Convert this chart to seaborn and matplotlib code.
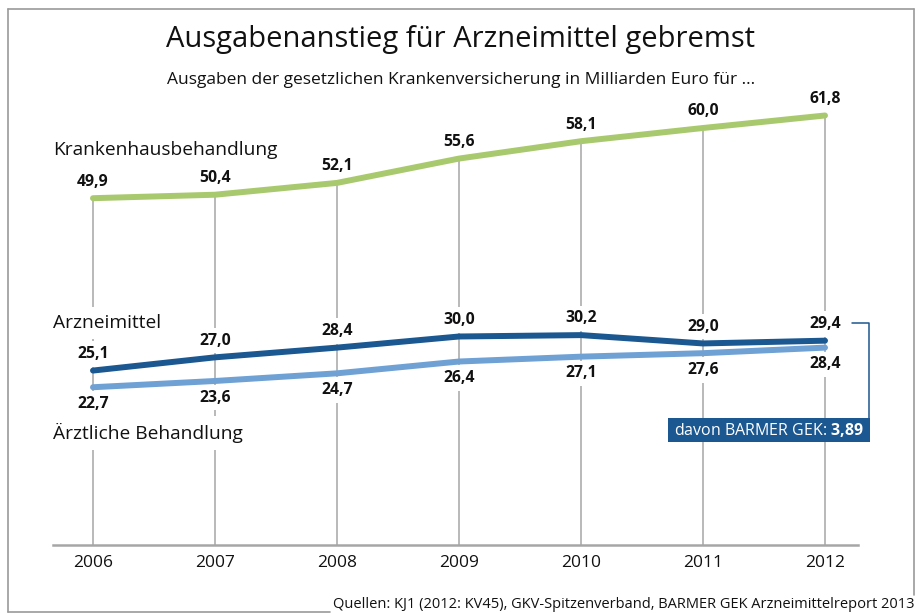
import matplotlib
matplotlib.use("Agg")
import numpy as np
import pandas as pd
import matplotlib.pyplot as plt
from matplotlib.lines import Line2D
from matplotlib.patches import Rectangle
import seaborn as sns

# Daten
jahre = [2006, 2007, 2008, 2009, 2010, 2011, 2012]
krankenhaus = [49.9, 50.4, 52.1, 55.6, 58.1, 60.0, 61.8]
arzneimittel = [25.1, 27.0, 28.4, 30.0, 30.2, 29.0, 29.4]
aerztlich = [22.7, 23.6, 24.7, 26.4, 27.1, 27.6, 28.4]
barmer_anteil = 3.89

serien = ["Krankenhausbehandlung", "Arzneimittel", "Ärztliche Behandlung"]
werte = [krankenhaus, arzneimittel, aerztlich]
farben = {"Krankenhausbehandlung": "#a9c96e",
          "Arzneimittel": "#1b5790",
          "Ärztliche Behandlung": "#6fa1d5"}

df = pd.DataFrame({
    "Jahr": jahre * 3,
    "Wert": krankenhaus + arzneimittel + aerztlich,
    "Serie": [s for s in serien for _ in jahre],
})

sns.set_style("white")
plt.rcParams["font.family"] = ["Open Sans", "DejaVu Sans"]
plt.rcParams["mathtext.fontset"] = "custom"
plt.rcParams["mathtext.rm"] = "Open Sans"
plt.rcParams["mathtext.bf"] = "Open Sans:bold"

W, H = 920, 614
def fx(px):
    return px / W
def fy(py):
    return 1 - py / H

fig = plt.figure(figsize=(9.2, 6.14), dpi=100)
ax = fig.add_axes([fx(53), fy(545), fx(858) - fx(53), (545 - 100) / H])

grau = "#a6a6a6"
# senkrechte Hilfslinien bis zur obersten Linie
ax.vlines(jahre, 0, krankenhaus, color=grau, lw=1.1, zorder=1)

for s in serien:
    sns.lineplot(data=df[df["Serie"] == s], x="Jahr", y="Wert", color=farben[s],
                 linewidth=4.3, solid_capstyle="round", ax=ax, zorder=3)

ax.set_xlim(2006 - 40 / 122, 2012 + 33 / 122)
ax.set_ylim(0, 445 / 6.95)

weiss = dict(facecolor="white", edgecolor="none", boxstyle="square,pad=0.3")

# Wertbeschriftungen
for s, vals in zip(serien, werte):
    off = -12 if s == "Ärztliche Behandlung" else 12
    for j, v in zip(jahre, vals):
        ax.annotate(f"{v:.1f}".replace(".", ","), (j, v), xytext=(0, off),
                    textcoords="offset points", ha="center", va="center",
                    fontsize=11.3, fontweight="bold", color="#111111",
                    bbox=weiss, zorder=2)

# Reihennamen
for s, py in zip(serien, [150, 323, 433]):
    ax.text(0, (545 - py) / 445, s, transform=ax.transAxes, ha="left",
            va="center", fontsize=13.8, color="#111111",
            bbox=dict(facecolor="white", edgecolor="none",
                      boxstyle="square,pad=0.35"), zorder=2)

sns.despine(ax=ax, left=True)
ax.spines["bottom"].set_color(grau)
ax.spines["bottom"].set_linewidth(1.8)
ax.set_yticks([])
ax.set_xticks(jahre)
ax.set_xticklabels([str(j) for j in jahre], fontsize=12.5, color="#111111")
ax.tick_params(axis="x", length=0, pad=7)
ax.set_xlabel("")
ax.set_ylabel("")

# Titel
fig.text(fx(461), fy(40), "Ausgabenanstieg für Arzneimittel gebremst",
         ha="center", va="center", fontsize=21, color="#111111")
fig.text(fx(461), fy(80),
         "Ausgaben der gesetzlichen Krankenversicherung in Milliarden Euro für …",
         ha="center", va="center", fontsize=12.5, color="#111111")

# Rahmen
rahmen = "#9a9a9a"
for xs, ys in [([8, 8], [9, 612]), ([8, 914], [9, 9]),
               ([914, 914], [9, 595]), ([8, 330], [612, 612])]:
    fig.add_artist(Line2D([fx(x) for x in xs], [fy(y) for y in ys],
                          color=rahmen, lw=1.2))

fig.text(fx(915), fy(605),
         "Quellen: KJ1 (2012: KV45), GKV-Spitzenverband, BARMER GEK Arzneimittelreport 2013",
         ha="right", va="center", fontsize=10.5, color="#111111")

# BARMER-Hinweis
dunkel = farben["Arzneimittel"]
fig.add_artist(Line2D([fx(852), fx(869), fx(869)], [fy(323), fy(323), fy(418)],
                      color=dunkel, lw=1.1))
fig.add_artist(Rectangle((fx(668), fy(442)), fx(870) - fx(668), 24 / H,
                         transform=fig.transFigure, facecolor=dunkel,
                         edgecolor="none"))
wert = f"{barmer_anteil:.2f}".replace(".", "{,}")
fig.text(fx(769), fy(430), "davon BARMER GEK: $\\mathbf{" + wert + "}$",
         ha="center", va="center", fontsize=11.5, color="white")

fig.savefig("out.png", dpi=100)
